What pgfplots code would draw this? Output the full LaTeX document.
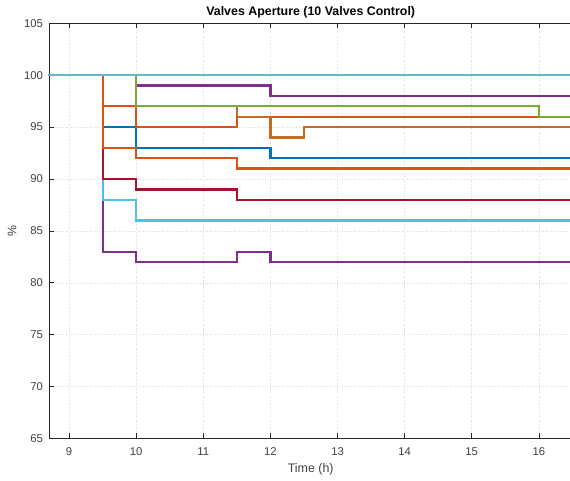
\documentclass[border=0pt]{standalone}
\usepackage{fontspec}
\setmainfont{Liberation Sans}
\usepackage{pgfplots}
\pgfplotsset{compat=1.18}
\definecolor{mblue}{HTML}{0072BD}
\definecolor{morange}{HTML}{D95319}
\definecolor{mdorange}{HTML}{CB6A1C}
\definecolor{mpurple}{HTML}{7E2F8E}
\definecolor{mgreen}{HTML}{77AC30}
\definecolor{mlblue}{HTML}{4DBEEE}
\definecolor{mtop}{HTML}{62B8CC}
\definecolor{mred}{HTML}{A2142F}
\definecolor{axc}{HTML}{262626}
\begin{document}
\begin{tikzpicture}
\begin{axis}[
  scale only axis, width=523.4pt, height=415.2pt,
  at={(0,0)}, anchor=south west,
  xmin=8.7, xmax=16.5, ymin=65, ymax=105,
  xtick={9,10,...,16}, ytick={65,70,...,105},
  grid=major, grid style={dotted, color=black!14, line width=0.5pt},
  tick align=inside, major tick length=5pt,
  axis line style={color=axc, line width=0.6pt},
  tick style={color=axc, line width=0.6pt},
  xtick pos=both, ytick pos=left,
  ticklabel style={font=\fontsize{11.3}{13}\selectfont, color=black!75},
  /pgf/number format/assume math mode=true,
  xticklabel style={anchor=base, yshift=-17.5pt},
  yticklabel style={anchor=east, xshift=-2.5pt},
  xlabel={Time (h)}, ylabel={\%},
  label style={font=\fontsize{12.4}{14}\selectfont, color=black!75},
  xlabel style={at={(axis description cs:0.5,0)}, anchor=base, yshift=-34pt},
  ylabel style={at={(axis description cs:-0.0707,0.5)}, anchor=center},
  every axis title shift=0pt,
  title={Valves Aperture (10 Valves Control)},
  title style={at={(axis description cs:0.5,1)}, anchor=base, yshift=7.8pt, font=\fontsize{12.4}{14}\selectfont\bfseries, color=black},
  every axis plot/.append style={line width=2.3pt, line join=miter},
]
% J purple
\addplot[color=mpurple] coordinates {(8.5,100)(9.5,100)(9.5,83)(10,83)(10,82)(11.5,82)(11.5,83)(12,83)(12,82)(16.6,82)};
% I light blue
\addplot[color=mlblue] coordinates {(8.5,100)(9.5,100)(9.5,88)(10,88)(10,86)(16.6,86)};
% H dark red
\addplot[color=mred] coordinates {(8.5,100)(9.5,100)(9.5,90)(10,90)(10,89)(11.5,89)(11.5,88)(16.6,88)};
% F blue
\addplot[color=mblue] coordinates {(8.5,100)(9.5,100)(9.5,95)(10,95)(10,93)(12,93)(12,92)(16.6,92)};
% G orange
\addplot[color=morange] coordinates {(8.5,100)(9.5,100)(9.5,93)(10,93)(10,92)(11.5,92)(11.5,91)(16.6,91)};
% D orange
\addplot[color=morange] coordinates {(8.5,100)(9.5,100)(9.5,97)(10,97)(10,95)(11.5,95)(11.5,96)(16.6,96)};
% E dark orange
\addplot[color=mdorange] coordinates {(8.5,100)(10,100)(10,97)(11.5,97)(11.5,96)(12,96)(12,94)(12.5,94)(12.5,95)(16.6,95)};
% B purple
\addplot[color=mpurple] coordinates {(8.5,100)(10,100)(10,99)(12,99)(12,98)(16.6,98)};
% C green
\addplot[color=mgreen] coordinates {(8.5,100)(10,100)(10,97)(16,97)(16,96)(16.6,96)};
% K light blue top
\addplot[color=mtop] coordinates {(8.5,100)(16.6,100)};
\end{axis}
\pgfresetboundingbox
\path[use as bounding box] (-49pt,-42.5pt) rectangle (521pt,438.5pt);
\end{tikzpicture}
\end{document}
